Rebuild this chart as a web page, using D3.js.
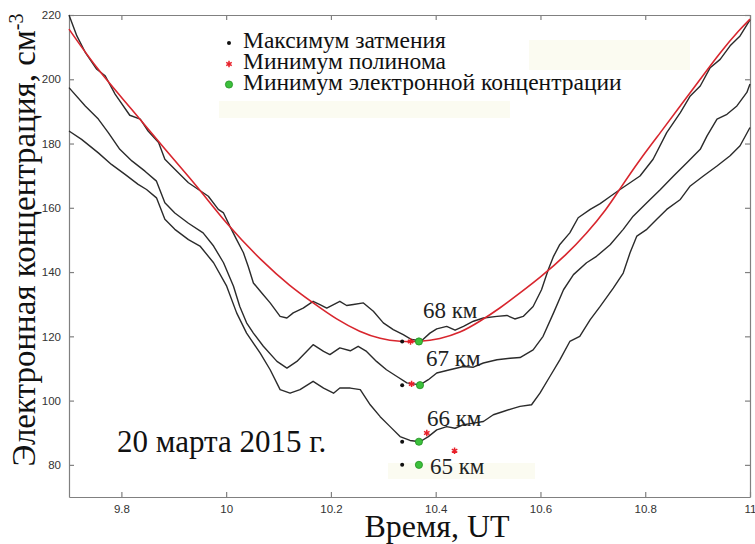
<!DOCTYPE html>
<html>
<head>
<meta charset="utf-8">
<script src="https://cdn.jsdelivr.net/npm/d3@7/dist/d3.min.js"></script>
<style>
  html, body { margin: 0; padding: 0; background: #fff; }
  svg { display: block; }
</style>
</head>
<body>
<div id="chart"></div>
<script>
// Electron density profiles at 65–68 km during the 20 March 2015 eclipse

// 68 km profile: time (UT, hours) and density (cm^-3)
const t68 = [9.700, 9.715, 9.731, 9.753, 9.769, 9.788, 9.816, 9.836, 9.851, 9.871, 9.883, 9.902, 9.928, 9.947, 9.966, 9.985, 9.995, 10.007, 10.020, 10.033, 10.042, 10.052, 10.068, 10.084, 10.103, 10.116, 10.128, 10.147, 10.166, 10.179, 10.192, 10.205, 10.217, 10.230, 10.243, 10.262, 10.281, 10.300, 10.319, 10.338, 10.354, 10.373, 10.389, 10.402, 10.421, 10.437, 10.453, 10.472, 10.491, 10.517, 10.536, 10.551, 10.567, 10.586, 10.602, 10.615, 10.625, 10.637, 10.656, 10.672, 10.695, 10.714, 10.733, 10.752, 10.771, 10.790, 10.815, 10.841, 10.867, 10.886, 10.905, 10.924, 10.943, 10.962, 10.981, 11.000];
const n68 = [220.0, 213.5, 208.4, 203.1, 201.1, 195.4, 188.8, 187.6, 183.9, 180.3, 175.1, 172.0, 167.8, 165.7, 163.6, 159.5, 158.4, 154.3, 150.1, 146.0, 141.8, 136.6, 133.5, 130.4, 126.2, 125.7, 127.3, 128.8, 130.9, 129.9, 128.8, 129.9, 130.9, 129.6, 129.9, 130.4, 127.8, 124.2, 122.1, 120.5, 119.0, 118.6, 121.0, 122.3, 123.1, 121.9, 123.1, 124.7, 125.7, 126.2, 126.5, 125.4, 126.2, 129.3, 134.5, 140.8, 144.9, 148.6, 152.2, 156.9, 159.5, 161.3, 163.5, 165.7, 167.8, 169.9, 175.1, 183.4, 189.6, 194.8, 197.9, 203.6, 206.2, 210.4, 213.5, 218.5];

// 67 km profile
const t67 = [9.700, 9.731, 9.756, 9.775, 9.797, 9.820, 9.845, 9.867, 9.883, 9.902, 9.928, 9.956, 9.976, 9.995, 10.014, 10.026, 10.039, 10.052, 10.071, 10.097, 10.116, 10.135, 10.166, 10.186, 10.198, 10.217, 10.237, 10.252, 10.268, 10.287, 10.306, 10.326, 10.345, 10.370, 10.386, 10.402, 10.427, 10.453, 10.472, 10.491, 10.517, 10.542, 10.561, 10.586, 10.605, 10.625, 10.644, 10.663, 10.688, 10.707, 10.733, 10.758, 10.777, 10.803, 10.829, 10.854, 10.880, 10.905, 10.918, 10.937, 10.956, 10.975, 10.994, 11.000];
const n67 = [197.4, 191.7, 187.6, 183.4, 178.2, 174.6, 171.4, 168.3, 161.6, 158.4, 155.2, 152.2, 148.1, 142.9, 135.6, 129.3, 124.2, 121.0, 116.9, 112.2, 110.1, 112.2, 117.4, 115.3, 114.3, 116.4, 115.5, 116.9, 115.3, 112.2, 109.6, 107.5, 105.5, 104.9, 106.5, 108.6, 109.6, 110.6, 110.4, 111.7, 112.7, 113.2, 113.4, 115.8, 120.0, 127.3, 134.5, 139.2, 142.9, 144.9, 148.5, 153.3, 157.4, 161.6, 165.7, 169.9, 174.1, 178.2, 182.4, 187.6, 189.1, 191.7, 195.9, 198.5];

// 66 km profile
const t66 = [9.700, 9.724, 9.756, 9.781, 9.807, 9.832, 9.848, 9.867, 9.883, 9.902, 9.928, 9.950, 9.976, 10.001, 10.020, 10.039, 10.065, 10.084, 10.103, 10.122, 10.141, 10.166, 10.186, 10.205, 10.217, 10.237, 10.256, 10.275, 10.294, 10.313, 10.332, 10.351, 10.370, 10.386, 10.402, 10.421, 10.437, 10.453, 10.472, 10.491, 10.510, 10.529, 10.548, 10.561, 10.583, 10.599, 10.618, 10.637, 10.656, 10.675, 10.695, 10.714, 10.739, 10.758, 10.771, 10.784, 10.803, 10.822, 10.841, 10.867, 10.886, 10.911, 10.937, 10.962, 10.981, 11.000];
const n66 = [183.9, 181.3, 177.1, 173.5, 170.4, 167.3, 165.7, 163.1, 156.4, 153.3, 150.1, 148.1, 142.9, 135.6, 127.3, 121.0, 114.8, 109.6, 103.4, 102.3, 103.4, 106.0, 103.9, 102.3, 103.9, 103.9, 103.4, 98.7, 95.0, 91.9, 88.8, 87.6, 87.2, 88.8, 90.9, 91.9, 91.4, 92.5, 93.0, 93.5, 95.6, 96.6, 97.6, 98.2, 98.7, 102.3, 107.5, 112.7, 118.4, 120.0, 125.2, 129.3, 135.0, 139.7, 146.0, 151.2, 153.3, 156.4, 159.5, 162.6, 166.8, 169.9, 173.0, 176.2, 179.3, 185.0];

// Polynomial fit of the 68 km profile
const tPoly = [9.700, 9.756, 9.820, 9.883, 9.947, 10.000, 10.071, 10.122, 10.166, 10.211, 10.256, 10.294, 10.332, 10.370, 10.408, 10.446, 10.485, 10.523, 10.561, 10.599, 10.650, 10.688, 10.726, 10.752, 10.790, 10.829, 10.867, 10.905, 10.943, 10.981, 11.000];
const nPoly = [215.6, 202.6, 190.7, 178.2, 166.3, 155.0, 142.9, 135.6, 130.4, 125.2, 121.3, 119.2, 118.3, 118.3, 119.2, 121.0, 124.7, 128.8, 133.5, 138.2, 145.5, 152.0, 159.5, 166.0, 175.1, 183.4, 191.7, 200.0, 208.4, 215.6, 218.7];

// Characteristic points per altitude
const altitudes   = [68, 67, 66, 65];
const eclipseMaxT = [10.336, 10.336, 10.336, 10.336];
const eclipseMaxN = [118.4, 104.8, 87.2, 80.0];
const polyMinT    = [10.352, 10.354, 10.383, 10.436];
const polyMinN    = [118.4, 105.2, 89.9, 84.4];
const densMinT    = [10.368, 10.370, 10.368, 10.368];
const densMinN    = [118.4, 104.8, 87.2, 80.0];

// Axis ticks
const xTicks = [9.8, 10, 10.2, 10.4, 10.6, 10.8, 11];
const yTicks = [80, 100, 120, 140, 160, 180, 200, 220];

const legendLabels = ["Максимум затмения", "Минимум полинома", "Минимум электронной концентрации"];
const dateLabel = "20 марта 2015 г.";

const SERIF = '"Liberation Serif"';
const SANS = '"Liberation Sans"';

const W = 755, H = 544;
const margin = { left: 69, right: 5, top: 15, bottom: 47 };
const pw = W - margin.left - margin.right;
const ph = H - margin.top - margin.bottom;

const svg = d3.select("#chart").append("svg")
  .attr("width", W).attr("height", H);

const x = d3.scaleLinear().domain([9.7, 11]).range([margin.left, margin.left + pw]);
const y = d3.scaleLinear().domain([70, 220]).range([margin.top + ph, margin.top]);

// faint background patches
const patches = [[219, 101, 291, 17], [529, 40, 161, 30], [388, 463, 147, 16]];
svg.selectAll("rect.patch").data(patches).join("rect")
  .attr("class", "patch")
  .attr("x", d => d[0]).attr("y", d => d[1]).attr("width", d => d[2]).attr("height", d => d[3])
  .attr("fill", "#fbfbf1");

// axes: frame with inward ticks on all four sides
const axisColor = "#808080";

const gx = svg.append("g").attr("transform", `translate(0,${margin.top + ph})`)
  .call(d3.axisBottom(x).tickValues(xTicks).tickFormat(d3.format("")).tickSizeInner(-5).tickSizeOuter(0).tickPadding(8));
const gxTop = svg.append("g").attr("transform", `translate(0,${margin.top})`)
  .call(d3.axisTop(x).tickValues(xTicks).tickFormat("").tickSizeInner(-5).tickSizeOuter(0));
const gy = svg.append("g").attr("transform", `translate(${margin.left},0)`)
  .call(d3.axisLeft(y).tickValues(yTicks).tickSizeInner(-5).tickSizeOuter(0).tickPadding(8));
const gyRight = svg.append("g").attr("transform", `translate(${margin.left + pw},0)`)
  .call(d3.axisRight(y).tickValues(yTicks).tickFormat("").tickSizeInner(-5).tickSizeOuter(0));

[gx, gxTop, gy, gyRight].forEach(g => {
  g.selectAll("path.domain").attr("stroke", axisColor).attr("stroke-width", 1.2);
  g.selectAll(".tick line").attr("stroke", axisColor).attr("stroke-width", 1.2);
  g.selectAll(".tick text").style("font-family", SANS).style("font-size", "11.5px").attr("fill", "#333");
});

// profiles
const line = d3.line().x(d => x(d[0])).y(d => y(d[1]));
const profiles = [[t68, n68], [t67, n67], [t66, n66]];
svg.append("g").selectAll("path").data(profiles).join("path")
  .attr("d", d => line(d[0].map((t, i) => [t, d[1][i]])))
  .attr("fill", "none").attr("stroke", "#2b2b2b").attr("stroke-width", 1.4)
  .attr("stroke-linejoin", "round");

// polynomial fit
const smooth = d3.line().x(d => x(d[0])).y(d => y(d[1])).curve(d3.curveBasis);
svg.append("path")
  .attr("d", smooth(tPoly.map((t, i) => [t, nPoly[i]])))
  .attr("fill", "none").attr("stroke", "#d8262e").attr("stroke-width", 1.6);

// markers
const star = d3.symbol().type(d3.symbolAsterisk).size(28);
function drawBlack(sel, cx, cy) {
  sel.append("circle").attr("cx", cx).attr("cy", cy).attr("r", 2).attr("fill", "#111");
}
function drawRed(sel, cx, cy) {
  sel.append("path").attr("d", star).attr("transform", `translate(${cx},${cy})`)
    .attr("fill", "none").attr("stroke", "#e8202a").attr("stroke-width", 1.5);
}
function drawGreen(sel, cx, cy) {
  sel.append("circle").attr("cx", cx).attr("cy", cy).attr("r", 3.6)
    .attr("fill", "#3cc03c").attr("stroke", "#1f8f1f").attr("stroke-width", 0.8);
}

const mk = svg.append("g");
altitudes.forEach((alt, i) => {
  drawBlack(mk, x(eclipseMaxT[i]), y(eclipseMaxN[i]));
  drawRed(mk, x(polyMinT[i]), y(polyMinN[i]));
  drawGreen(mk, x(densMinT[i]), y(densMinN[i]));
});

// altitude labels, placed next to the density minimum markers
const labelOffsets = [[4, -23], [6, -19], [8, -16], [11, 9]];
svg.append("g").selectAll("text").data(altitudes).join("text")
  .style("font-family", SERIF).style("font-size", "23px")
  .attr("x", (d, i) => x(densMinT[i]) + labelOffsets[i][0])
  .attr("y", (d, i) => y(densMinN[i]) + labelOffsets[i][1])
  .attr("fill", "#222")
  .text(d => `${d} км`);

// legend
const legend = svg.append("g");
const legendRows = [48, 69, 89.5];
const legendDrawers = [drawBlack, drawRed, drawGreen];
legendLabels.forEach((lab, i) => {
  legendDrawers[i](legend, 229, legendRows[i] - 5);
  legend.append("text").attr("x", 243).attr("y", legendRows[i])
    .style("font-family", SERIF).style("font-size", "23.5px")
    .attr("fill", "#111").text(lab);
});

// date
svg.append("text").attr("x", 117).attr("y", 452)
  .style("font-family", SERIF).style("font-size", "31px")
  .attr("fill", "#111").text(dateLabel);

// axis titles
svg.append("text").attr("x", 437).attr("y", 537)
  .attr("text-anchor", "middle")
  .style("font-family", SERIF).style("font-size", "32px")
  .attr("fill", "#111").text("Время, UT");

const yt = svg.append("text")
  .attr("transform", "translate(35,240) rotate(-90)")
  .attr("text-anchor", "middle")
  .style("font-family", SERIF).style("font-size", "33px")
  .attr("fill", "#111");
yt.append("tspan").text("Электронная концентрация, см");
yt.append("tspan").attr("dy", -12).style("font-size", "20px").text("-3");
</script>
</body>
</html>
